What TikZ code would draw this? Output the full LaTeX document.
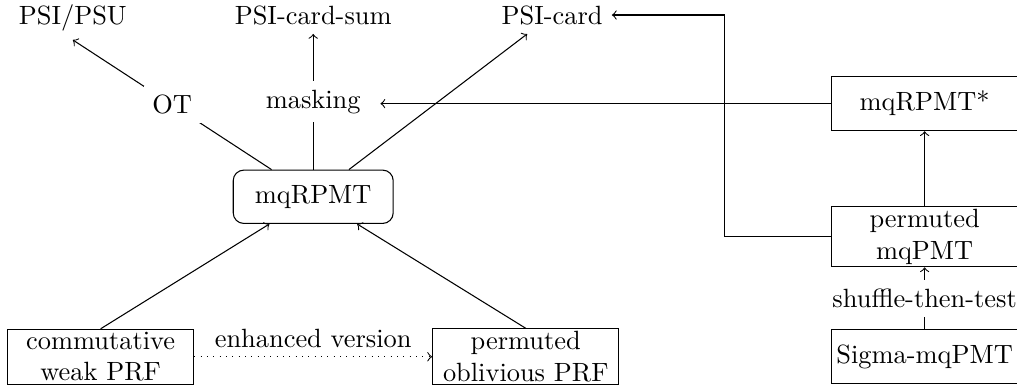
\documentclass[tikz,border=0pt]{standalone}
\usepackage{amsmath}
\usepackage{tikz}
\tikzset{blockbox/.style={draw, minimum width=2.48cm, minimum height=0.72cm, inner sep=1pt, align=center},
  roundblock/.style={draw, rounded corners, minimum width=2.13cm, minimum height=0.71cm},
  edgelabel/.style={fill=white}
}

\begin{document}
\begin{tikzpicture}
    \useasboundingbox (0,0) rectangle (13.54,5.18);
    \node[anchor=base] (psipsu) at (0.97,4.86) {PSI/PSU};
    \node[anchor=base] (psicardsum) at (4.17,4.86) {PSI-card-sum};
    \node[anchor=base] (psicard) at (7.35,4.86) {PSI-card};
    \node[roundblock] (mqrpmt) at (4.17,2.56) {mqRPMT};
    \node[blockbox] (cwprf) at (1.34,0.43) {commutative\\weak PRF};
    \node[blockbox] (poprf) at (7.00,0.43) {permuted\\oblivious PRF};
    \node[blockbox] (mqrpmtstar) at (12.31,3.80) {mqRPMT*};
    \node[blockbox] (pmqpmt) at (12.31,2.03) {permuted\\mqPMT};
    \node[blockbox] (sigma) at (12.31,0.43) {Sigma-mqPMT};

    \draw[->] (mqrpmt) -- node[edgelabel]{OT} (psipsu.south);
    \draw[->] (mqrpmt) -- node[edgelabel] (masking) {masking} (psicardsum);
    \draw[->] (mqrpmt) -- (psicard);
    \draw[->] (cwprf.north) -- (mqrpmt);
    \draw[->] (poprf.north) -- (mqrpmt);
    \draw[->, dotted] (cwprf) -- node[above]{enhanced version} (poprf);
    \draw[->, shorten >=4pt] (mqrpmtstar) -- (mqrpmtstar -| masking.east);
    \draw[->] (pmqpmt) -- (mqrpmtstar);
    \draw[->] (sigma) -- node[edgelabel]{shuffle-then-test} (pmqpmt);
    \draw[->] (pmqpmt.west) -- ++(-1.42,0) |- (psicard);
\end{tikzpicture}
\end{document}
